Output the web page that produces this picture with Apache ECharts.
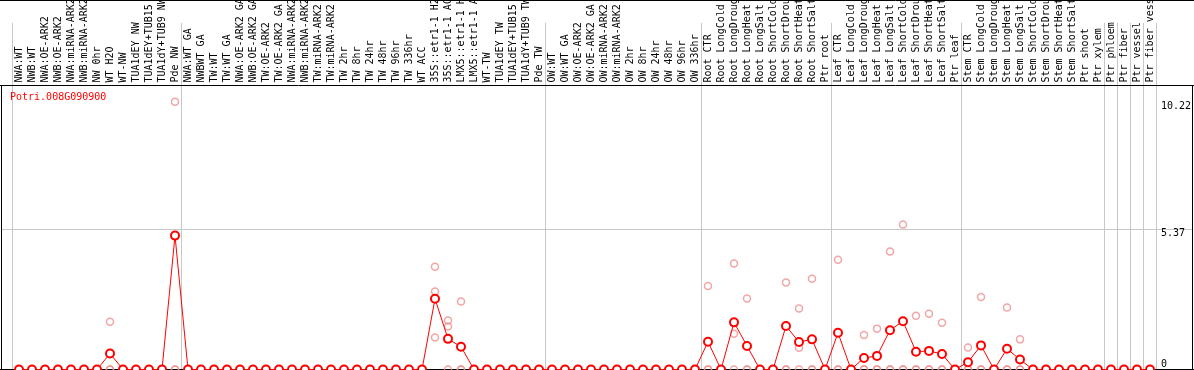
<!DOCTYPE html>
<html>
<head>
<meta charset="utf-8">
<script src="https://cdn.jsdelivr.net/npm/echarts@6/dist/echarts.min.js"></script>
<style>
  html, body { margin: 0; padding: 0; background: #fff; }
  #main { width: 1194px; height: 370px; }
</style>
</head>
<body>
<div id="main"></div>
<script>
const chart = echarts.init(document.getElementById('main'))

const geneName = 'Potri.008G090900'

const categories = [
  'NWA:WT','NWB:WT','NWA:OE-ARK2','NWB:OE-ARK2','NWA:miRNA-ARK2','NWB:miRNA-ARK2','NW 0hr','WT H2O','WT-NW','TUA1dEY NW','TUA1dEY+TUB15 NW','TUA1dY+TUB9 NW','Pde NW',
  'NWA:WT GA','NWBWT GA','TW:WT','TW:WT GA','NWA:OE-ARK2 GA','NWB:OE-ARK2 GA','TW:OE-ARK2','TW:OE-ARK2 GA','NWA:miRNA-ARK2','NWB:miRNA-ARK2','TW:miRNA-ARK2','TW:miRNA-ARK2',
  'TW 2hr','TW 8hr','TW 24hr','TW 48hr','TW 96hr','TW 336hr','WT ACC','35S::etr1-1 H2O','35S::etr1-1 ACC','LMX5::etr1-1 H2O','LMX5::etr1-1 ACC','WT-TW','TUA1dEY TW','TUA1dEY+TUB15 TW','TUA1dY+TUB9 TW','Pde TW',
  'OW:WT','OW:WT GA','OW:OE-ARK2','OW:OE-ARK2 GA','OW:miRNA-ARK2','OW:miRNA-ARK2','OW 2hr','OW 8hr','OW 24hr','OW 48hr','OW 96hr','OW 336hr',
  'Root CTR','Root LongCold','Root LongDrought','Root LongHeat','Root LongSalt','Root ShortCold','Root ShortDrought','Root ShortHeat','Root ShortSalt','Ptr root',
  'Leaf CTR','Leaf LongCold','Leaf LongDrought','Leaf LongHeat','Leaf LongSalt','Leaf ShortCold','Leaf ShortDrought','Leaf ShortHeat','Leaf ShortSalt','Ptr leaf',
  'Stem CTR','Stem LongCold','Stem LongDrought','Stem LongHeat','Stem LongSalt','Stem ShortCold','Stem ShortDrought','Stem ShortHeat','Stem ShortSalt',
  'Ptr shoot','Ptr xylem','Ptr phloem','Ptr fiber','Ptr vessel','Ptr fiber vessel'
]

// mean expression per sample
const means = [
  0,0,0,0,0,0,0,0.61,0,0,0,0,5.11,
  0,0,0,0,0,0,0,0,0,0,0,0,
  0,0,0,0,0,0,0,2.70,1.17,0.87,0,0,0,0,0,0,
  0,0,0,0,0,0,0,0,0,0,0,0,
  1.06,0,1.80,0.90,0,0,1.66,1.05,1.15,0,
  1.40,0,0.44,0.52,1.50,1.84,0.68,0.71,0.59,0,
  0.28,0.92,0,0.79,0.38,0,0,0,0,
  0,0,0,0,0,0
]

// replicates
const rep1 = [
  0,0,0,0,0,0,0,1.82,0,0,0,0,10.22,
  0,0,0,0,0,0,0,0,0,0,0,0,
  0,0,0,0,0,0,0,3.92,1.87,2.60,0,0,0,0,0,0,
  0,0,0,0,0,0,0,0,0,0,0,0,
  3.19,0,4.05,2.71,0,0,3.32,2.33,3.46,0,
  4.19,0,1.32,1.56,4.50,5.53,2.05,2.13,1.78,0,
  0.84,2.77,0,2.37,1.15,0,0,0,0,
  0,0,0,0,0,0
]
const rep2 = [
  0,0,0,0,0,0,0,0,0,0,0,0,0,
  0,0,0,0,0,0,0,0,0,0,0,0,
  0,0,0,0,0,0,0,2.98,1.64,0,0,0,0,0,0,0,
  0,0,0,0,0,0,0,0,0,0,0,0,
  0,0,1.36,0,0,0,0,0.83,0,0,
  0,0,0,0,0,0,0,0,0,0,
  0,0,0,0,0,0,0,0,0,
  0,0,0,0,0,0
]
const rep3 = [
  0,0,0,0,0,0,0,0,0,0,0,0,0,
  0,0,0,0,0,0,0,0,0,0,0,0,
  0,0,0,0,0,0,0,1.22,0,0,0,0,0,0,0,0,
  0,0,0,0,0,0,0,0,0,0,0,0,
  0,0,0,0,0,0,0,0,0,0,
  0,0,0,0,0,0,0,0,0,0,
  0,0,0,0,0,0,0,0,0,
  0,0,0,0,0,0
]

// samples that start a new group (vertical separators)
const groupStarts = [0, 13, 41, 53, 63, 73, 84, 85, 86, 87]
const yTicks = [5.37, 10.22]

const yMax = 10.84
const grey = '#c8c8c8'
const mono = 'DejaVu Sans Mono'

let repData = []
;[rep1, rep2, rep3].forEach(rep => {
  rep.forEach((v, i) => repData.push([i, v]))
})

const sepLine = {
  show: true,
  interval: (index) => groupStarts.indexOf(index) >= 0,
  lineStyle: { color: grey, width: 1 }
}

let option = {
  animation: false,
  backgroundColor: '#fff',
  title: {
    text: geneName,
    left: 10,
    top: 92,
    padding: 0,
    textStyle: { color: '#ff0000', fontSize: 10, fontFamily: mono, fontWeight: 'normal' }
  },
  grid: [
    { left: 12.5, right: 37.5, top: 85.5, bottom: 0.5 },   // plot
    { left: 12.5, right: 37.5, top: 0, height: 85.5 },     // header labels
    { left: 1.5, right: 0, top: 85.5, bottom: 0.5 }        // right axis labels
  ],
  xAxis: [
    {
      gridIndex: 0, type: 'category', data: categories, boundaryGap: true,
      axisLine: { show: false }, axisTick: { show: false }, axisLabel: { show: false },
      splitLine: sepLine
    },
    {
      gridIndex: 1, type: 'category', data: categories, boundaryGap: true, position: 'bottom',
      axisLine: { show: false }, axisTick: { show: false },
      axisLabel: {
        interval: 0, inside: true, rotate: 90, margin: 3,
        fontFamily: mono, fontSize: 10, color: '#000'
      },
      splitLine: sepLine
    },
    { gridIndex: 2, type: 'value', show: false, min: 0, max: 1 }
  ],
  yAxis: [
    { gridIndex: 0, type: 'value', min: 0, max: yMax, show: false },
    { gridIndex: 1, type: 'value', show: false },
    {
      gridIndex: 2, type: 'value', min: 0, max: yMax, position: 'right',
      axisLine: { show: false },
      axisTick: { show: false, customValues: [5.37] },
      axisLabel: {
        customValues: yTicks, inside: true, margin: 31, align: 'left', verticalAlign: 'top',
        fontFamily: mono, fontSize: 10, color: '#000'
      },
      splitLine: { show: true, lineStyle: { color: grey, width: 1 } }
    },
    {
      gridIndex: 2, type: 'value', min: 0, max: yMax, position: 'right',
      axisLine: { show: false },
      axisTick: { show: false, customValues: [0] },
      axisLabel: {
        customValues: [0], inside: true, margin: 31, align: 'left', verticalAlign: 'bottom',
        fontFamily: mono, fontSize: 10, color: '#000'
      },
      splitLine: { show: false }
    }
  ],
  graphic: [
    { type: 'line', z: 1, shape: { x1: 0, y1: 0.5, x2: 1194, y2: 0.5 }, style: { stroke: '#000', lineWidth: 1 } },
    { type: 'line', z: 1, shape: { x1: 0, y1: 85.5, x2: 1194, y2: 85.5 }, style: { stroke: '#000', lineWidth: 1 } },
    { type: 'line', z: 1, shape: { x1: 1.5, y1: 85.5, x2: 1.5, y2: 370 }, style: { stroke: '#000', lineWidth: 1 } },
    { type: 'line', z: 1, shape: { x1: 1192.5, y1: 85.5, x2: 1192.5, y2: 370 }, style: { stroke: '#000', lineWidth: 1 } },
    { type: 'line', z: 1, shape: { x1: 0, y1: 369.5, x2: 1194, y2: 369.5 }, style: { stroke: '#000', lineWidth: 1 } }
  ],
  series: [
    {
      name: 'replicates',
      type: 'scatter',
      xAxisIndex: 0, yAxisIndex: 0,
      data: repData,
      symbol: 'circle',
      symbolSize: 7,
      itemStyle: { color: 'rgba(0,0,0,0)', borderColor: '#ee9090', borderWidth: 1.5 },
      z: 3
    },
    {
      name: geneName,
      type: 'line',
      xAxisIndex: 0, yAxisIndex: 0,
      data: means,
      symbol: 'emptyCircle',
      symbolSize: 8,
      lineStyle: { color: '#ff0000', width: 1 },
      itemStyle: { color: '#ff0000', borderWidth: 2 },
      z: 4
    }
  ]
}
chart.setOption(option)
</script>
</body>
</html>
